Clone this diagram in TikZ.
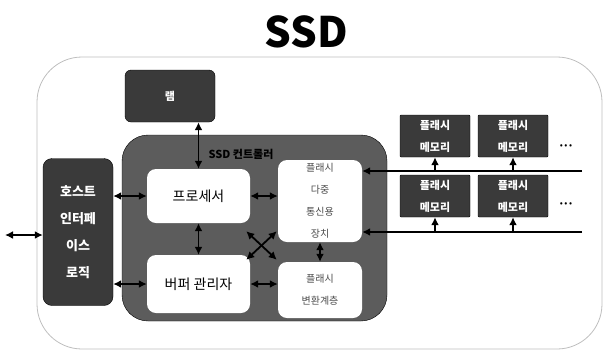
\documentclass[tikz,border=0pt]{standalone}
\usepackage{fontspec}
\setmainfont{Noto Sans CJK KR}
\usetikzlibrary{arrows.meta}
\definecolor{darkbox}{RGB}{58,58,58}
\definecolor{ctrlgray}{RGB}{92,92,92}
\definecolor{rimgray}{RGB}{190,190,190}

\begin{document}
\begin{tikzpicture}[x=1pt,y=-1pt,
        dark/.style={draw=black,fill=darkbox,rounded corners=6pt,text=white,font=\bfseries\fontsize{11}{22}\selectfont,align=center,inner sep=0pt},
        pane/.style={fill=white,rounded corners=9pt,align=center,inner sep=0pt},
        link/.style={{Latex[length=8pt,width=8pt]}-{Latex[length=8pt,width=8pt]},line width=1.8pt},
        feed/.style={-{Latex[length=8pt,width=8pt]},line width=1.8pt}]
        \useasboundingbox (0,0) rectangle (607,354);

        % Title and outer case
        \node (title) at (306,32) {\bfseries\fontsize{42}{44}\selectfont SSD};
        \draw[rimgray,line width=0.8pt,rounded corners=45pt] (37,57) rectangle (602,349);

        % Controller
        \node[draw=black,fill=ctrlgray,rounded corners=26pt,minimum width=265pt,minimum height=186pt] (ctrl) at (254.5,228) {};
        \node (ctrllabel) at (241,154) {\bfseries\fontsize{11}{12}\selectfont SSD 컨트롤러};

        \node[dark,minimum width=90pt,minimum height=52pt] (ram) at (170,96) {램};
        \node[dark,rounded corners=9pt,minimum width=70pt,minimum height=147pt,font=\bfseries\fontsize{13}{27}\selectfont] (host) at (78,232) {호스트\\인터페\\이스\\로직};

        \node[pane,minimum width=103pt,minimum height=54pt,font=\fontsize{14}{16}\selectfont] (proc) at (198.5,196) {프로세서};
        \node[pane,minimum width=103pt,minimum height=58pt,font=\fontsize{14}{16}\selectfont] (buf) at (198.5,284) {버퍼 관리자};
        \node[pane,minimum width=84pt,minimum height=82pt,text=black!70,font=\fontsize{10}{22}\selectfont] (mux) at (320,201) {플래시\\다중\\통신용\\장치};
        \node[pane,minimum width=84pt,minimum height=56pt,text=black!70,font=\fontsize{10}{22}\selectfont] (ftl) at (320,290) {플래시\\변환계층};

        % Flash chips
        \node[dark,rounded corners=1pt,minimum width=70pt,minimum height=42pt] (fmaa) at (435,136) {플래시\\메모리};
        \node[dark,rounded corners=1pt,minimum width=70pt,minimum height=42pt] (fmab) at (513,136) {플래시\\메모리};
        \node[dark,rounded corners=1pt,minimum width=70pt,minimum height=42pt] (fmba) at (435,196) {플래시\\메모리};
        \node[dark,rounded corners=1pt,minimum width=70pt,minimum height=42pt] (fmbb) at (513,196) {플래시\\메모리};
        \node (dotsa) at (566,147) {\fontsize{9}{10}\selectfont •\,•\,•};
        \node (dotsb) at (566,205) {\fontsize{9}{10}\selectfont •\,•\,•};

        % Channels
        \coordinate (busa) at (582,171);
        \coordinate (busb) at (582,232);
        \coordinate (ext) at (5,235);
        \draw[feed] (busa) -- (busa -| mux.east);
        \draw[feed] (busb) -- (busb -| mux.east);
        \draw[feed] (busa -| fmaa.south) -- (fmaa.south);
        \draw[feed] (busa -| fmab.south) -- (fmab.south);
        \draw[feed] (busb -| fmba.south) -- (fmba.south);
        \draw[feed] (busb -| fmbb.south) -- (fmbb.south);

        % Inner links
        \draw[link] (ext) -- (ext -| host.west);
        \draw[link] (host.east |- proc.west) -- (proc.west);
        \draw[link] (host.east |- buf.west) -- (buf.west);
        \draw[link] (ram.south -| proc.north) -- (proc.north);
        \draw[link] (proc.south) -- (buf.north);
        \draw[link] (proc.east) -- (proc.east -| mux.west);
        \draw[link] (buf.east) -- (buf.east -| ftl.west);
        \draw[link] (mux.south) -- (ftl.north);
        \draw[link] ([shift={(-4,8)}]proc.south east) -- ([shift={(-1,-2)}]ftl.north west);
        \draw[link] ([shift={(-4,5)}]buf.north east) -- ([shift={(-1,-11)}]mux.south west);
    \end{tikzpicture}
\end{document}
